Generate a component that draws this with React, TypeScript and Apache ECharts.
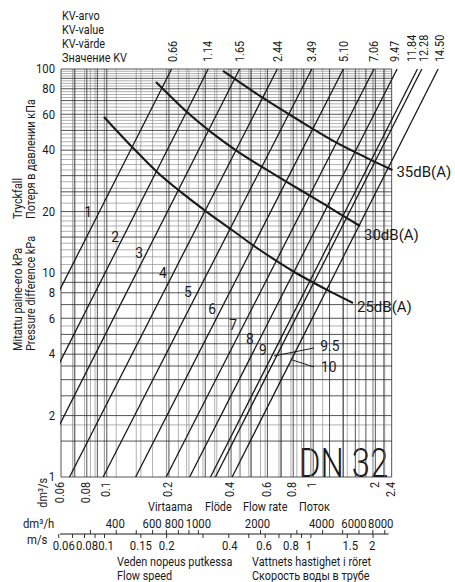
import React, { useEffect, useRef } from "react";
import * as echarts from "echarts";

// ---------- data ----------
const kvLabels = ["0.66", "1.14", "1.65", "2.44", "3.49", "5.10", "7.06", "9.47", "11.84", "12.28", "14.50"];
const lineNames = ["1", "2", "3", "4", "5", "6", "7", "8", "9", "9.5", "10"];
// flow rate dm3/s where each valve line reaches 100 kPa and 1 kPa
const flowAt100 = [0.206, 0.31, 0.44, 0.67, 0.985, 1.4, 1.97, 2.55, 3.2, 3.36, 4.03];
const flowAt1 = [0.0206, 0.031, 0.044, 0.066, 0.096, 0.138, 0.194, 0.252, 0.318, 0.336, 0.405];

// line name label positions [dm3/s, kPa]
const nameLabelFlow = [0.0811, 0.1096, 0.1433, 0.1872, 0.2474, 0.3239, 0.4088, 0.494, 0.571, 1.204, 1.19];
const nameLabelKpa = [19.9, 15.0, 12.5, 10.0, 8.07, 6.66, 5.56, 4.75, 4.19, 4.39, 3.46];
// leader lines for 9.5 and 10
const leader95 = [[0.646, 3.92], [1.009, 4.29]];
const leader10 = [[0.79, 3.75], [1.009, 3.46]];

// sound level curves
const db35Flow = [0.3657, 0.571, 0.863, 1.304, 1.783, 2.42];
const db35Kpa = [97.8, 72.1, 55.6, 43.4, 37.0, 32.0];
const db30Flow = [0.1731, 0.2447, 0.3235, 0.4275, 0.565, 0.747, 0.987, 1.304, 1.686];
const db30Kpa = [86.4, 61.5, 48.6, 39.6, 33.1, 27.9, 23.6, 19.9, 17.0];
const db25Flow = [0.0969, 0.1325, 0.1751, 0.2314, 0.3059, 0.4043, 0.534, 0.799, 1.167, 1.559];
const db25Kpa = [58.2, 41.5, 31.3, 24.7, 19.9, 16.25, 13.26, 10.2, 8.26, 7.13];

// grid lines: flow dm3/s (dark), dm3/h and m/s (grey), pressure kPa
const vGridFlow = [0.06, 0.07, 0.08, 0.09, 0.1, 0.2, 0.3, 0.4, 0.5, 0.6, 0.7, 0.8, 0.9, 1, 1.2, 1.4, 1.6, 1.8, 2, 2.2, 2.4];
const vGridHour = [250, 300, 350, 400, 500, 600, 700, 800, 900, 1000, 1200, 1400, 1600, 1800, 2000, 2500, 3000, 3500, 4000, 5000, 6000, 7000, 8000];
const vGridSpeed = [0.07, 0.08, 0.09, 0.1, 0.15, 0.2, 0.25, 0.3, 0.35, 0.4, 0.45, 0.5, 0.6, 0.7, 0.8, 0.9, 1, 1.5, 2];
const hGridDark = [1, 1.5, 2, 2.5, 3, 3.5, 4, 4.5, 5, 6, 7, 8, 9, 10, 15, 20, 25, 30, 40, 50, 60, 70, 80, 90, 100];
const hGridLight = [1.8, 5.5, 11, 12, 13, 14, 16, 17, 18, 19, 22, 24, 26, 28, 32, 34, 36, 38, 42, 44, 46, 48, 52, 54, 56, 58, 62.5, 65, 67.5, 72.5, 75, 77.5, 82.5, 85, 87.5, 92.5, 95, 97.5];

// axis ticks / labels
const flowTickLabels = ["0.06", "0.08", "0.1", "0.2", "0.4", "0.6", "0.8", "1", "2", "2.4"];
const kpaTickLabels = ["1", "2", "4", "6", "8", "10", "20", "40", "60", "80", "100"];
const hourTicks = [300, 400, 500, 600, 700, 800, 900, 1000, 2000, 3000, 4000, 5000, 6000, 7000, 8000];
const hourLabels = ["400", "600", "800", "1000", "2000", "4000", "6000", "8000"];
const speedTicks = [0.06, 0.07, 0.08, 0.09, 0.1, 0.15, 0.2, 0.3, 0.4, 0.5, 0.6, 0.7, 0.8, 0.9, 1, 1.5, 2];
const speedLabels = ["0.06", "0.08", "0.1", "0.15", "0.2", "0.4", "0.6", "0.8", "1", "1.5", "2"];

// ---------- layout / style ----------
const FONT = "Roboto, 'Noto Sans', sans-serif";
const INK = "#1a1a1a";
const SQ = 0.87; // horizontal squeeze to mimic the condensed face
const SPEED_FACTOR = 0.975; // dm3/s per m/s for DN 32
const kvNudge = [1.5, 0, 0, 0, 0, 0, 0, -2, -6, 1.5, 2];
const hourNudge = [-1, -0.5, -4, 0, -3, -1, -5, -4];
const speedNudge = [5, 2.5, 1.5, 0, 0, 1, -1, 0, -2, 3, -1];

function textEl(x: number, y: number, text: string, size: number, o: any = {}) {
  return {
    type: "text",
    x,
    y,
    rotation: o.rot || 0,
    scaleX: o.sx || SQ,
    scaleY: 1,
    style: {
      text,
      fontSize: size,
      fontFamily: FONT,
      fontWeight: o.fw || "normal",
      fill: o.fill || INK,
      align: o.align || "left",
      verticalAlign: o.va || "middle",
    },
  };
}

function lineSeg(a: number[], b: number[], stroke: string, w: number) {
  return { type: "line", shape: { x1: a[0], y1: a[1], x2: b[0], y2: b[1] }, style: { stroke, lineWidth: w } };
}

function buildOption() {
  const series: any[] = [];

  const vGrid = (vals: number[], axis: number, stroke: string, w: number) => ({
    type: "custom",
    xAxisIndex: axis,
    silent: true,
    clip: false,
    z: 1,
    data: vals.map((v) => [v, 1]),
    renderItem: (_p: any, api: any) => {
      const v = api.value(0);
      return lineSeg(api.coord([v, 1]), api.coord([v, 100]), stroke, w);
    },
  });
  const hGrid = (vals: number[], stroke: string, w: number) => ({
    type: "custom",
    silent: true,
    clip: false,
    z: 1,
    data: vals.map((v) => [0.06, v]),
    renderItem: (_p: any, api: any) => {
      const v = api.value(1);
      return lineSeg(api.coord([0.06, v]), api.coord([2.4, v]), stroke, w);
    },
  });
  series.push(vGrid(vGridHour, 2, "#8f8f8f", 0.7));
  series.push(vGrid(vGridSpeed, 1, "#8f8f8f", 0.7));
  series.push(hGrid(hGridLight, "#8f8f8f", 0.7));
  series.push(vGrid(vGridFlow, 0, "#2a2a2a", 0.8));
  series.push(hGrid(hGridDark, "#2a2a2a", 0.8));

  // valve lines
  kvLabels.forEach((kv, i) => {
    series.push({
      type: "line",
      name: "Kv " + kv,
      data: [
        [flowAt1[i], 1],
        [flowAt100[i], 100],
      ],
      symbol: "none",
      clip: true,
      silent: true,
      z: 3,
      lineStyle: { color: INK, width: 1.3 },
    });
  });

  // sound curves
  const dbCurve = (name: string, fl: number[], kp: number[], off: number[]) => ({
    type: "line",
    name,
    data: fl.map((f, i) => [f, kp[i]]),
    symbol: "none",
    smooth: 0.3,
    clip: false,
    silent: true,
    z: 4,
    lineStyle: { color: INK, width: 2.1, join: "round" },
    endLabel: {
      show: true,
      formatter: name,
      fontFamily: FONT,
      fontSize: 15,
      color: INK,
      distance: 4,
      offset: off,
    },
  });
  series.push(dbCurve("35dB(A)", db35Flow, db35Kpa, [0, 2]));
  series.push(dbCurve("30dB(A)", db30Flow, db30Kpa, [0, 9]));
  series.push(dbCurve("25dB(A)", db25Flow, db25Kpa, [0, 4]));

  // line names
  series.push({
    type: "custom",
    silent: true,
    clip: false,
    z: 5,
    data: lineNames.map((_n, i) => [nameLabelFlow[i], nameLabelKpa[i]]),
    renderItem: (p: any, api: any) => {
      const a = api.coord([api.value(0), api.value(1)]);
      return textEl(a[0], a[1], lineNames[p.dataIndex], 15, { align: "center", sx: 0.92 });
    },
  });
  [leader95, leader10].forEach((ld) =>
    series.push({
      type: "line",
      data: ld,
      symbol: "none",
      silent: true,
      z: 5,
      lineStyle: { color: INK, width: 1 },
    })
  );

  // flow axis labels (bottom, rotated)
  series.push({
    type: "custom",
    silent: true,
    clip: false,
    data: flowTickLabels.map((s) => [parseFloat(s), 1]),
    renderItem: (p: any, api: any) => {
      const a = api.coord([api.value(0), 1]);
      return textEl(a[0] - 1, a[1] + 5, flowTickLabels[p.dataIndex], 12.5, { rot: Math.PI / 2, align: "right" });
    },
  });
  // pressure labels
  series.push({
    type: "custom",
    silent: true,
    clip: false,
    data: kpaTickLabels.map((s) => [0.06, parseFloat(s)]),
    renderItem: (p: any, api: any) => {
      const a = api.coord([0.06, api.value(1)]);
      return textEl(a[0] - 6, a[1], kpaTickLabels[p.dataIndex], 13, { align: "right" });
    },
  });
  // Kv labels at top
  series.push({
    type: "custom",
    silent: true,
    clip: false,
    data: flowAt100.map((f) => [f, 100]),
    renderItem: (p: any, api: any) => {
      const a = api.coord([api.value(0), 100]);
      return textEl(a[0] + kvNudge[p.dataIndex], a[1] - 7, kvLabels[p.dataIndex], 12.5, { rot: Math.PI / 2, align: "left" });
    },
  });

  // dm3/h scale (xAxis 2)
  const AXIS_Y = 57; // px below plot bottom
  series.push({
    type: "custom",
    xAxisIndex: 2,
    silent: true,
    clip: false,
    data: hourTicks.map((v) => [v, 1]),
    renderItem: (_p: any, api: any) => {
      const a = api.coord([api.value(0), 1]);
      return lineSeg([a[0], a[1] + AXIS_Y - 4], [a[0], a[1] + AXIS_Y], INK, 0.9);
    },
  });
  series.push({
    type: "custom",
    xAxisIndex: 2,
    silent: true,
    clip: false,
    data: hourLabels.map((s) => [parseFloat(s), 1]),
    renderItem: (p: any, api: any) => {
      const a = api.coord([api.value(0), 1]);
      return textEl(a[0] + hourNudge[p.dataIndex], a[1] + AXIS_Y - 10, hourLabels[p.dataIndex], 13, { align: "center" });
    },
  });
  // m/s scale (xAxis 1)
  series.push({
    type: "custom",
    xAxisIndex: 1,
    silent: true,
    clip: false,
    data: speedTicks.map((v) => [v, 1]),
    renderItem: (_p: any, api: any) => {
      const a = api.coord([api.value(0), 1]);
      return lineSeg([a[0], a[1] + AXIS_Y], [a[0], a[1] + AXIS_Y + 4], INK, 0.9);
    },
  });
  series.push({
    type: "custom",
    xAxisIndex: 1,
    silent: true,
    clip: false,
    data: speedLabels.map((s) => [parseFloat(s), 1]),
    renderItem: (p: any, api: any) => {
      const a = api.coord([api.value(0), 1]);
      return textEl(a[0] + speedNudge[p.dataIndex], a[1] + AXIS_Y + 12, speedLabels[p.dataIndex], 13, { align: "center" });
    },
  });
  // scale base line
  series.push({
    type: "custom",
    silent: true,
    clip: false,
    data: [[0.06, 1]],
    renderItem: (_p: any, api: any) => {
      const a = api.coord([0.06, 1]);
      const b = api.coord([2.4, 1]);
      return lineSeg([a[0] - 1, a[1] + AXIS_Y], [b[0] - 3, b[1] + AXIS_Y], INK, 1);
    },
  });

  const R = Math.PI / 2;
  const graphic: any[] = [
    textEl(62, 16, "KV-arvo", 12.5),
    textEl(62, 30, "KV-value", 12.5),
    textEl(62, 44, "KV-värde", 12.5),
    textEl(62, 58, "Значение KV", 12.5),
    textEl(18, 219, "Tryckfall", 12.5, { rot: R }),
    textEl(31, 219, "Потеря в давлении кПа", 12.5, { rot: R }),
    textEl(18, 351, "Mitattu paine-ero kPa", 12.5, { rot: R }),
    textEl(31, 351, "Pressure difference kPa", 12.5, { rot: R }),
    textEl(43, 478, "dm³/s", 12.5, { rot: R, align: "right" }),
    textEl(148, 507, "Virtaama", 12.5),
    textEl(205, 507, "Flöde", 12.5),
    textEl(243, 507, "Flow rate", 12.5),
    textEl(299, 507, "Поток", 12.5),
    textEl(23, 524, "dm³/h", 13),
    textEl(27, 540, "m/s", 13),
    textEl(117, 562, "Veden nopeus putkessa", 12.5),
    textEl(117, 576, "Flow speed", 12.5),
    textEl(252, 562, "Vattnets hastighet i röret", 12.5),
    textEl(252, 576, "Скорость воды в трубе", 12.5),
    textEl(299, 463, "DN 32", 41, { sx: 0.8, fw: 300 }),
  ];

  return {
    animation: false,
    backgroundColor: "#fff",
    grid: { left: 61, top: 69, width: 385, height: 408, containLabel: false },
    xAxis: [
      { type: "log", min: 0.06, max: 4.4, show: false, gridIndex: 0 },
      { type: "log", min: 0.06 / SPEED_FACTOR, max: 4.4 / SPEED_FACTOR, show: false, gridIndex: 0 },
      { type: "log", min: 216, max: 15840, show: false, gridIndex: 0 },
    ],
    yAxis: [{ type: "log", min: 1, max: 100, show: false }],
    graphic,
    series,
  };
}

export default function App() {
  const ref = useRef<HTMLDivElement>(null);
  useEffect(() => {
    const chart = echarts.init(ref.current as HTMLDivElement, null, { renderer: "svg" });
    chart.setOption(buildOption() as any);
    return () => chart.dispose();
  }, []);
  return (
    <div
      ref={ref}
      style={{ position: "fixed", left: 0, top: 0, width: 455, height: 582, background: "#fff" }}
    />
  );
}
